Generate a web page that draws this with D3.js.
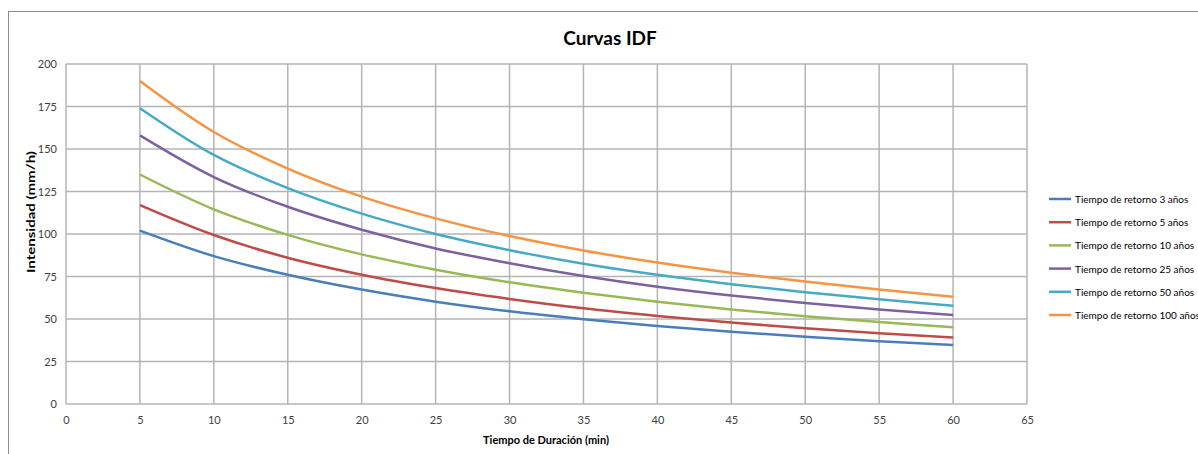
<!DOCTYPE html>
<html>
<head>
<meta charset="utf-8">
<script src="https://cdn.jsdelivr.net/npm/d3@7"></script>
<style>
  body { margin: 0; background: #fff; }
  svg { display: block; font-family: Lato, "Open Sans", sans-serif; }
</style>
</head>
<body>
<div id="chart"></div>
<script>
// duration (min)
const durations = [5, 10, 15, 20, 25, 30, 35, 40, 45, 50, 55, 60];

// intensity (mm/h) per return period
const t3 = [102, 87, 76, 67.3, 60.2, 54.5, 49.9, 45.9, 42.5, 39.5, 36.9, 34.7];
const t5 = [117, 99.4, 86, 76, 68.2, 61.8, 56.3, 51.8, 47.9, 44.5, 41.6, 39.1];
const t10 = [135, 114.5, 99.5, 88, 79, 71.6, 65.5, 60.2, 55.6, 51.6, 48.2, 45.1];
const t25 = [158, 133.5, 116, 102.5, 91.5, 82.8, 75.3, 69, 63.8, 59.4, 55.6, 52.4];
const t50 = [174, 146.5, 127, 112, 100, 90.5, 82.5, 76, 70.5, 65.8, 61.6, 57.8];
const t100 = [190, 160, 138.5, 122, 109.2, 98.8, 90.3, 83.2, 77.2, 72, 67.4, 63.1];

const seriesNames = [
  'Tiempo de retorno 3 años',
  'Tiempo de retorno 5 años',
  'Tiempo de retorno 10 años',
  'Tiempo de retorno 25 años',
  'Tiempo de retorno 50 años',
  'Tiempo de retorno 100 años'
];
const seriesValues = [t3, t5, t10, t25, t50, t100];
const colors = ['#4a7ebb', '#be4b48', '#98b954', '#7d60a0', '#46aac5', '#f59443'];

const xTicks = d3.range(0, 70, 5);
const yTicks = d3.range(0, 225, 25);

const width = 1198, height = 454;
const plot = {left: 66, top: 64, right: 1027, bottom: 404};

const svg = d3.select('#chart').append('svg')
  .attr('width', width).attr('height', height);

// outer chart frame (cut off at right/bottom like the screenshot)
svg.append('rect')
  .attr('x', 8.5).attr('y', 11.5).attr('width', 1300).attr('height', 600)
  .attr('fill', 'none').attr('stroke', '#8c8c8c').attr('stroke-width', 1);

const x = d3.scaleLinear().domain([0, 65]).range([plot.left, plot.right]);
const y = d3.scaleLinear().domain([0, 200]).range([plot.bottom, plot.top]);

const grid = svg.append('g');
grid.selectAll('line.v').data(xTicks).join('line')
  .attr('x1', d => x(d)).attr('x2', d => x(d))
  .attr('y1', plot.top).attr('y2', plot.bottom)
  .attr('stroke', '#b4b4b4').attr('stroke-width', 1.5);
grid.selectAll('line.h').data(yTicks).join('line')
  .attr('y1', d => y(d)).attr('y2', d => y(d))
  .attr('x1', plot.left).attr('x2', plot.right)
  .attr('stroke', '#b4b4b4').attr('stroke-width', 1.5);

// axes (labels only)
const xAxis = svg.append('g')
  .attr('transform', `translate(0,${plot.bottom})`)
  .call(d3.axisBottom(x).tickValues(xTicks).tickSize(0).tickPadding(12));
const yAxis = svg.append('g')
  .attr('transform', `translate(${plot.left},0)`)
  .call(d3.axisLeft(y).tickValues(yTicks).tickSize(0).tickPadding(9));
[xAxis, yAxis].forEach(a => {
  a.select('.domain').remove();
  a.selectAll('text').attr('font-size', 11).attr('fill', '#404040')
    .attr('font-family', 'Lato, sans-serif');
});

const line = d3.line()
  .x((d, i) => x(durations[i]))
  .y(d => y(d))
  .curve(d3.curveCatmullRom);

svg.append('g').selectAll('path').data(seriesValues).join('path')
  .attr('d', line)
  .attr('fill', 'none')
  .attr('stroke', (d, i) => colors[i])
  .attr('stroke-width', 2.5);

// title
svg.append('text')
  .attr('x', 610).attr('y', 45)
  .attr('text-anchor', 'middle')
  .attr('font-size', 19).attr('font-weight', 'bold').attr('fill', '#000')
  .text('Curvas IDF');

// axis titles
svg.append('text')
  .attr('x', 546).attr('y', 444)
  .attr('text-anchor', 'middle')
  .attr('font-size', 11).attr('font-weight', 'bold').attr('fill', '#000')
  .text('Tiempo de Duración (min)');
svg.append('text')
  .attr('transform', 'translate(35,212) rotate(-90)')
  .attr('text-anchor', 'middle')
  .attr('font-size', 11).attr('font-weight', 'bold').attr('fill', '#000')
  .attr('textLength', 122).attr('lengthAdjust', 'spacingAndGlyphs')
  .text('Intensidad (mm/h)');

// legend
const legend = svg.append('g').attr('transform', 'translate(1049,199)');
const item = legend.selectAll('g').data(seriesNames).join('g')
  .attr('transform', (d, i) => `translate(0,${i * 23.2})`);
item.append('line')
  .attr('x1', 0).attr('x2', 22).attr('y1', 0).attr('y2', 0)
  .attr('stroke', (d, i) => colors[i]).attr('stroke-width', 2.5);
item.append('text')
  .attr('x', 26).attr('y', 4)
  .attr('font-size', 10).attr('fill', '#000')
  .text(d => d);
</script>
</body>
</html>
